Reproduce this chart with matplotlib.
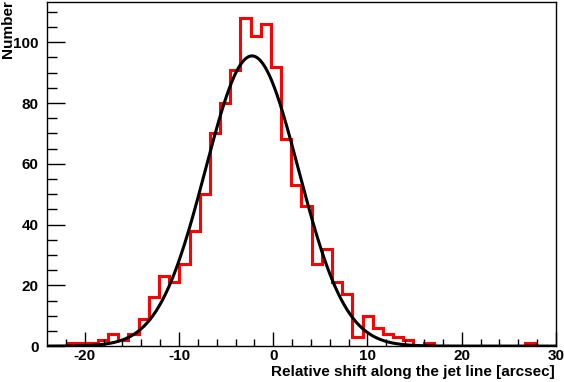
"""
Histogram of the relative shift along the jet line, with a Gaussian fit.
"""
import numpy as np
import matplotlib
matplotlib.use('Agg')
import matplotlib.pyplot as plt

# 50 bins from -24 to 30 arcsec
x_min = -24.0
x_max = 30.0
n_bins = 50
counts = [0, 0, 1, 1, 1, 2, 4, 2, 4, 9,
          16, 23, 21, 27, 38, 50, 70, 80, 91, 108,
          102, 106, 92, 68, 53, 46, 27, 32, 21, 17,
          3, 10, 6, 4, 3, 2, 0, 1, 0, 0,
          0, 0, 0, 0, 0, 0, 0, 1, 0, 0]

# Gaussian fit parameters (amplitude, mean, sigma)
fit_amp = 95.5
fit_mean = -2.25
fit_sigma = 4.95

x_ticks = [-20, -10, 0, 10, 20, 30]
y_ticks = [0, 20, 40, 60, 80, 100]

plt.rcParams['font.family'] = ['Liberation Sans', 'DejaVu Sans']
plt.rcParams['font.weight'] = 'bold'
plt.rcParams['axes.unicode_minus'] = False

fig = plt.figure(figsize=(5.64, 3.82), dpi=100)
ax = fig.add_axes([0.0833, 0.094, 0.9025, 0.902])

edges = np.linspace(x_min, x_max, n_bins + 1)
ax.stairs(counts, edges, color='red', lw=2.2, baseline=0)

xf = np.linspace(x_min, x_max, 500)
yf = fit_amp * np.exp(-0.5 * ((xf - fit_mean) / fit_sigma) ** 2)
ax.plot(xf, yf, color='black', lw=2.2)

ax.set_xlim(x_min, x_max)
ax.set_ylim(0, 1.05 * max(counts))

ax.set_xticks(x_ticks)
ax.set_xticks(np.arange(-22, 31, 2), minor=True)
ax.set_yticks(y_ticks)
ax.set_yticks(np.arange(0, 113, 5), minor=True)

ax.tick_params(axis='both', which='both', direction='in', labelsize=11,
               width=1)
ax.tick_params(axis='x', which='major', length=10, pad=2)
ax.tick_params(axis='x', which='minor', length=5)
ax.tick_params(axis='y', which='major', length=13, pad=6)
ax.tick_params(axis='y', which='minor', length=7)

for spine in ax.spines.values():
    spine.set_linewidth(1)

# axis titles placed ROOT-style, flush with the frame ends
fig.text(0.984, 0.026, 'Relative shift along the jet line [arcsec]',
         fontsize=11, fontweight='bold', ha='right', va='center')
fig.text(0.001, 0.999, 'Number', fontsize=11, fontweight='bold',
         rotation=90, ha='left', va='top')

fig.savefig('out.png', dpi=100)
